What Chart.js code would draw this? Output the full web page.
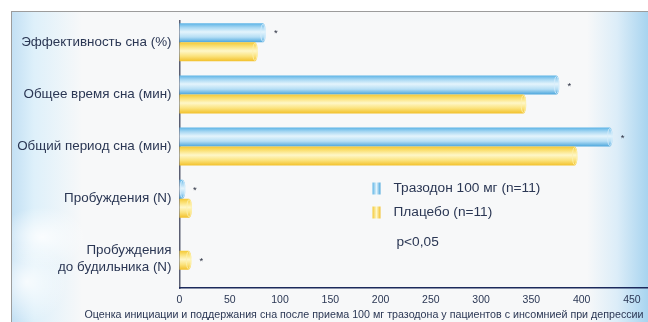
<!DOCTYPE html>
<html>
<head>
<meta charset="utf-8">
<script src="https://cdn.jsdelivr.net/npm/chart.js@4/dist/chart.umd.min.js"></script>
<style>
  html, body { margin: 0; padding: 0; background: #ffffff; }
  #wrap { position: relative; width: 648px; height: 322px; overflow: hidden; }
  #panel {
    position: absolute; left: 11px; top: 11px; width: 637px; height: 311px;
    border-left: 1px solid #9c9c9c; border-top: 1px solid #9c9c9c;
    background:
      radial-gradient(ellipse 45px 30px at 30px 225px, rgba(255,255,255,0.85), rgba(255,255,255,0) 100%),
      radial-gradient(ellipse 40px 40px at 15px 270px, rgba(255,255,255,0.8), rgba(255,255,255,0) 100%),
      linear-gradient(to right, #c3e0f4 0px, #def0fa 22px, #f7f8f9 70px, #f7f8f9 575px, #dcedf8 605px, #a6d3ef 637px);
  }
  #chart { position: absolute; left: 0; top: 0; }
</style>
</head>
<body>
<div id="wrap">
  <div id="panel"></div>
  <canvas id="chart" width="648" height="322"></canvas>
</div>
<script>
// Sleep parameters, trazodone 100 mg vs placebo
const categories = [
  'Эффективность сна (%)',
  'Общее время сна (мин)',
  'Общий период сна (мин)',
  'Пробуждения (N)',
  ['', 'Пробуждения', 'до будильника (N)']
];
const trazodone = [86, 378, 431, 5.5, 0];
const placebo = [78, 345, 396, 12.5, 12];
// which series carries the significance star for each category (0 = trazodone, 1 = placebo)
const starOn = [0, 0, 0, 0, 1];
const xTicks = [0, 50, 100, 150, 200, 250, 300, 350, 400, 450];
const seriesNames = ['Тразодон 100 мг (n=11)', 'Плацебо (n=11)'];
const noteText = 'p<0,05';
const captionText = 'Оценка инициации и поддержания сна после приема 100 мг тразодона у пациентов с инсомнией при депрессии';

const textColor = '#2b3754';
const fontFamily = '"Liberation Sans", Arial, sans-serif';

const palettes = [
  { stops: ['#5db4e6', '#a9d8f3', '#e4f4fc', '#b5def5', '#4aa5dc'], rim: '#d7eefb' },
  { stops: ['#f4c936', '#fbe27a', '#fef7c8', '#fbe37e', '#f2c02a'], rim: '#fdf1b0' }
];

function cylinderFill(ctx, top, bottom, pal) {
  const g = ctx.createLinearGradient(0, top, 0, bottom);
  g.addColorStop(0, pal.stops[0]);
  g.addColorStop(0.22, pal.stops[1]);
  g.addColorStop(0.45, pal.stops[2]);
  g.addColorStop(0.72, pal.stops[3]);
  g.addColorStop(1, pal.stops[4]);
  return g;
}

// Paints each bar as a shaded cylinder with a rounded cap, using the bar element geometry
const cylinderBars = {
  id: 'cylinderBars',
  afterDatasetsDraw(chart) {
    const ctx = chart.ctx;
    chart.data.datasets.forEach((ds, di) => {
      const meta = chart.getDatasetMeta(di);
      const pal = palettes[di];
      meta.data.forEach((bar, i) => {
        if (!ds.data[i].x) return;
        const p = bar.getProps(['x', 'y', 'base', 'height'], true);
        const top = p.y - p.height / 2, bottom = p.y + p.height / 2;
        const capR = 3;
        const end = Math.max(p.base + capR, p.x - capR);
        ctx.save();
        ctx.beginPath();
        ctx.moveTo(p.base, top);
        ctx.lineTo(end, top);
        ctx.ellipse(end, p.y, capR, p.height / 2, 0, -Math.PI / 2, Math.PI / 2);
        ctx.lineTo(p.base, bottom);
        ctx.closePath();
        ctx.fillStyle = cylinderFill(ctx, top, bottom, pal);
        ctx.fill();
        ctx.beginPath();
        ctx.ellipse(end, p.y, capR - 0.8, p.height / 2 - 0.8, 0, 0, Math.PI * 2);
        ctx.strokeStyle = pal.rim;
        ctx.lineWidth = 0.8;
        ctx.stroke();
        ctx.restore();
      });
    });
  }
};

// Significance stars placed after the end of the marked bar
const starMarks = {
  id: 'starMarks',
  afterDatasetsDraw(chart) {
    const ctx = chart.ctx;
    ctx.save();
    ctx.fillStyle = '#2a2f40';
    ctx.font = '9.5px ' + fontFamily;
    ctx.textAlign = 'left';
    ctx.textBaseline = 'middle';
    starOn.forEach((di, i) => {
      const bar = chart.getDatasetMeta(di).data[i];
      const p = bar.getProps(['x', 'y'], true);
      ctx.fillText('*', p.x + 8, p.y + 1);
    });
    ctx.restore();
  }
};

// Legend, note and caption
const innerLegend = {
  id: 'innerLegend',
  afterDraw(chart) {
    const ctx = chart.ctx;
    const a = chart.chartArea;
    const x0 = a.left + 193;
    const y0 = 188.5;
    ctx.save();
    ctx.font = '13.7px ' + fontFamily;
    ctx.textBaseline = 'middle';
    ctx.textAlign = 'left';
    seriesNames.forEach((name, i) => {
      const y = y0 + i * 24;
      const pal = palettes[i];
      const g = ctx.createLinearGradient(x0, 0, x0 + 8, 0);
      g.addColorStop(0, pal.stops[0]);
      g.addColorStop(0.5, pal.stops[2]);
      g.addColorStop(1, pal.stops[4]);
      ctx.fillStyle = g;
      ctx.fillRect(x0, y - 6, 8, 12);
      ctx.fillStyle = textColor;
      ctx.fillText(name, x0 + 21, y);
    });
    ctx.fillText(noteText, x0 + 24, 242);

    ctx.font = '10.7px ' + fontFamily;
    ctx.textAlign = 'center';
    ctx.fillText(captionText, 364, 315);
    ctx.restore();
  }
};

new Chart(document.getElementById('chart'), {
  type: 'bar',
  data: {
    datasets: [
      {
        label: seriesNames[0],
        data: trazodone.map((v, i) => ({ x: v, y: i })),
        backgroundColor: 'rgba(0,0,0,0)',
        barThickness: 19
      },
      {
        label: seriesNames[1],
        data: placebo.map((v, i) => ({ x: v, y: i })),
        backgroundColor: 'rgba(0,0,0,0)',
        barThickness: 19
      }
    ]
  },
  options: {
    indexAxis: 'y',
    responsive: false,
    animation: false,
    layout: { padding: { top: 21, right: 0, left: 0, bottom: 0 } },
    plugins: { legend: { display: false }, tooltip: { enabled: false } },
    scales: {
      y: {
        type: 'linear',
        reverse: true,
        offset: false,
        min: -0.41,
        max: 4.714,
        afterBuildTicks(scale) { scale.ticks = categories.map((c, i) => ({ value: i })); },
        afterFit(scale) {
          scale.width = 179.5;
          scale.paddingTop = 0;
          scale.paddingBottom = 0;
        },
        grid: { display: false, drawTicks: false, offset: false },
        border: { display: true, color: '#5a5e72', width: 1.5 },
        ticks: {
          padding: 8,
          color: textColor,
          font: { family: fontFamily, size: 13.4 },
          callback: (v) => categories[v]
        }
      },
      x: {
        type: 'linear',
        min: 0,
        max: 466,
        afterBuildTicks(scale) { scale.ticks = xTicks.map(v => ({ value: v })); },
        afterFit(scale) { scale.height = 34; },
        grid: { display: false, drawTicks: false },
        border: { display: true, color: '#1c2a5c', width: 1.5 },
        ticks: {
          padding: 6,
          color: textColor,
          maxRotation: 0,
          font: { family: fontFamily, size: 10.5 }
        }
      }
    }
  },
  plugins: [cylinderBars, starMarks, innerLegend]
});
</script>
</body>
</html>
